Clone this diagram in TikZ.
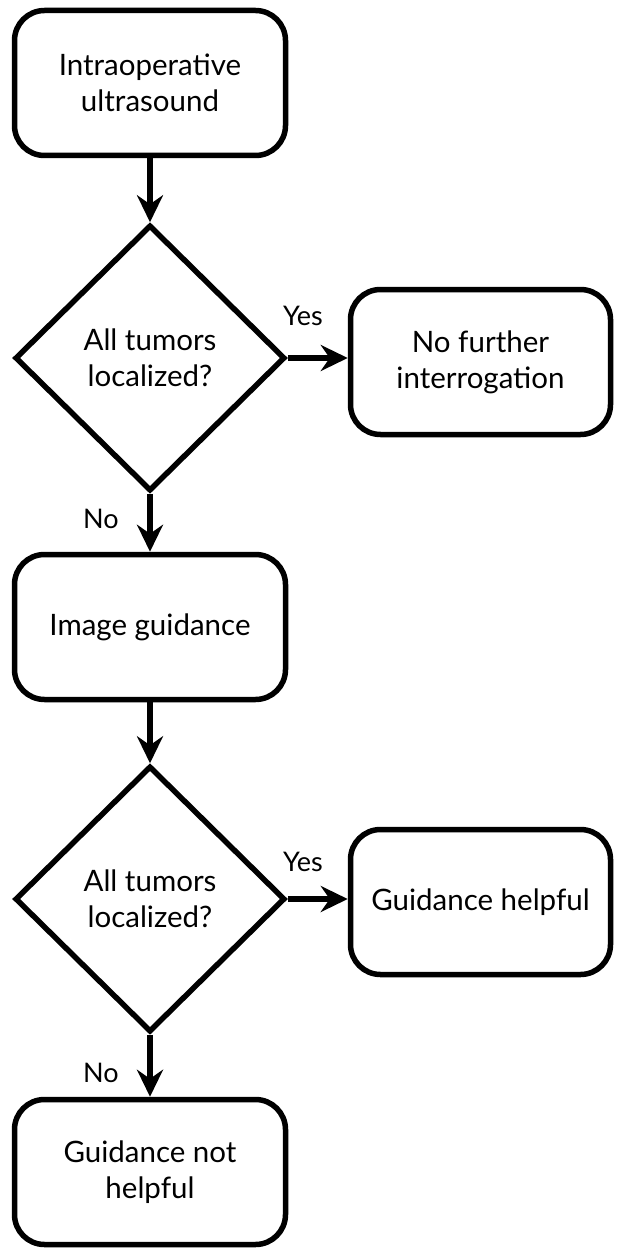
\documentclass[tikz,border=0pt]{standalone}
\usepackage{fontspec}
\setmainfont{Lato}
\usetikzlibrary{shapes.geometric,arrows.meta}
\begin{document}
\begin{tikzpicture}[x=1pt,y=-1pt,
  box/.style={draw, line width=5.5pt, rounded corners=30pt, minimum width=271pt, minimum height=145pt, align=center, inner sep=0pt, font=\fontsize{29.5}{36}\selectfont},
  rbox/.style={box, minimum width=260pt},
  dec/.style={draw, diamond, line width=5.5pt, minimum width=270pt, minimum height=266pt, inner sep=0pt, align=center, font=\fontsize{29.5}{36}\selectfont},
  lbl/.style={font=\fontsize{27}{32}\selectfont, inner sep=0pt},
  arr/.style={line width=5.5pt, -{Stealth[length=27pt,width=26pt,inset=9pt]}}]
\useasboundingbox (0,0) rectangle (616,1249);
\node[box] (b1) at (150,83) {Intraoperative\\ultrasound};
\node[dec] (d1) at (150,358) {All tumors\\localized?};
\node[rbox] (r1) at (480.5,362) {No further\\interrogation};
\node[box] (b3) at (150,627) {Image guidance};
\node[dec] (d2) at (150,899) {All tumors\\localized?};
\node[rbox] (r2) at (480.5,902) {Guidance helpful};
\node[box] (b5) at (150,1172) {Guidance not\\helpful};
\node[lbl] (y1) at (303,316) {Yes};
\node[lbl] (y2) at (303,862) {Yes};
\node[lbl] (n1) at (101,519) {No};
\node[lbl] (n2) at (101,1073) {No};
\draw[arr] (b1) -- (d1);
\draw[arr] (d1.east) -- (d1.east -| r1.west);
\draw[arr] (d1) -- (b3);
\draw[arr] (b3) -- (d2);
\draw[arr] (d2.east) -- (d2.east -| r2.west);
\draw[arr] (d2) -- (b5);
\end{tikzpicture}
\end{document}
